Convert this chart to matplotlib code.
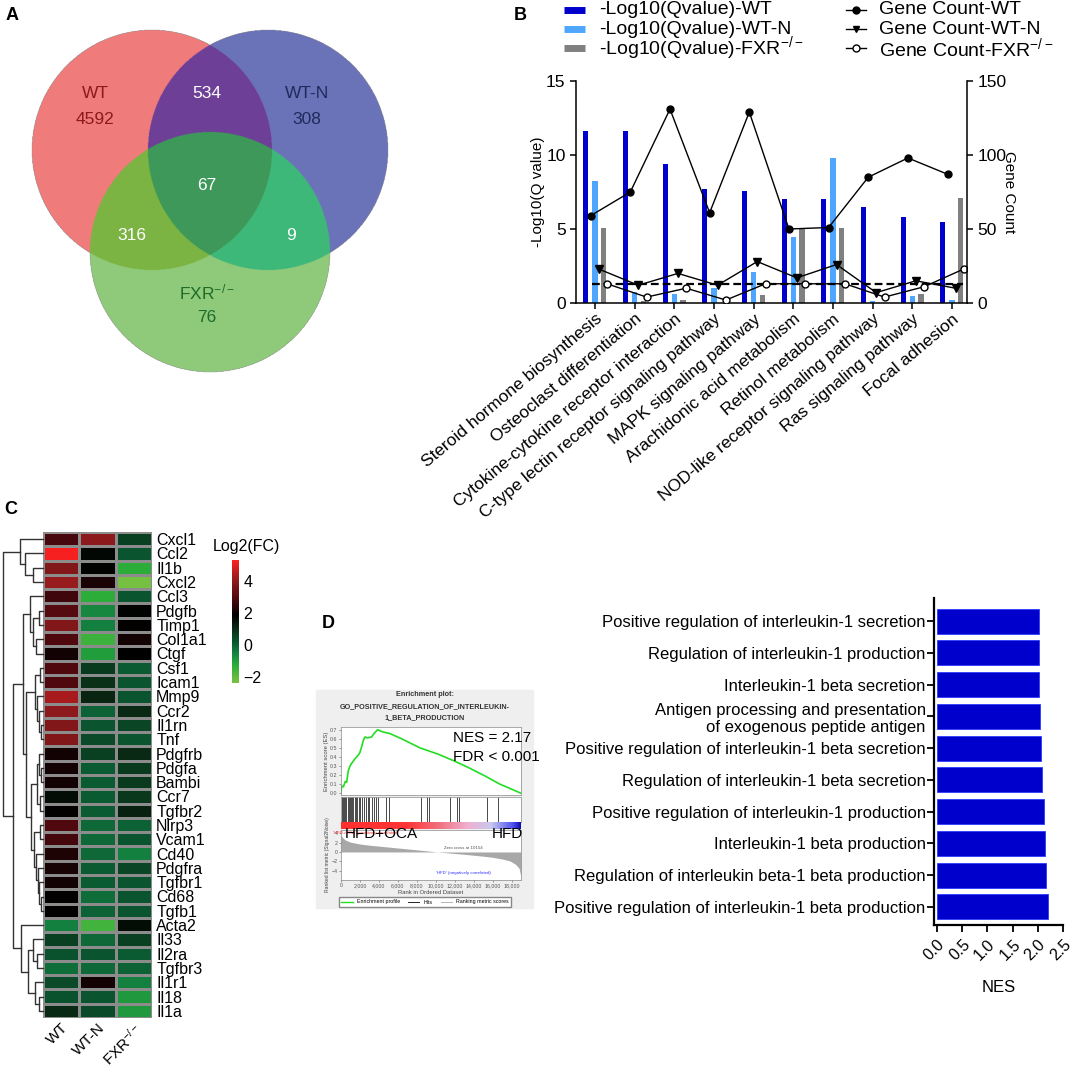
import numpy as np
import matplotlib
matplotlib.use('Agg')
import matplotlib.pyplot as plt
from matplotlib.colors import LinearSegmentedColormap, to_rgb
from matplotlib.lines import Line2D
from matplotlib.patches import Rectangle

plt.rcParams['font.family'] = ['Liberation Sans', 'DejaVu Sans']
plt.rcParams['mathtext.default'] = 'regular'

W, H = 1072, 1069
fig = plt.figure(figsize=(W / 100, H / 100), dpi=100)


def box(l, t, r, b):
    # pixel box (left, top, right, bottom) -> figure fraction
    return [l / W, 1 - b / H, (r - l) / W, (b - t) / H]


def fx(x):
    return x / W


def fy(y):
    return 1 - y / H


# ---------------- data ----------------
# A: venn counts (region key = in WT, in WT-N, in FXR-/-)
venn_names = ['WT', 'WT-N', 'FXR$^{-/-}$']
venn_counts = {'100': 4592, '010': 308, '001': 76,
               '110': 534, '101': 316, '011': 9, '111': 67}
venn_colors = {'100': '#ef7b7b', '010': '#6c74b8', '001': '#8fca7a',
               '110': '#6e3f96', '101': '#7bb542', '011': '#3eb879',
               '111': '#3e985a'}

# B: KEGG pathways
pathways = ['Steroid hormone biosynthesis', 'Osteoclast differentiation',
            'Cytokine-cytokine receptor interaction',
            'C-type lectin receptor signaling pathway',
            'MAPK signaling pathway', 'Arachidonic acid metabolism',
            'Retinol metabolism', 'NOD-like receptor signaling pathway',
            'Ras signaling pathway', 'Focal adhesion']
q_wt = [11.65, 11.65, 9.4, 7.7, 7.55, 7.05, 7.05, 6.5, 5.8, 5.5]
q_wtn = [8.27, 0.75, 0.63, 1.0, 2.07, 4.48, 9.8, 0.13, 0.45, 0.18]
q_fxr = [5.07, 0.12, 0.22, 0.0, 0.56, 5.0, 5.07, 0.0, 0.63, 7.09]
cnt_wt = [59, 75, 131, 61, 129, 50, 51, 85, 98, 87]
cnt_wtn = [23, 12, 20, 12, 28, 17, 26, 7, 15, 10]
cnt_fxr = [13, 4, 10, 2, 13, 13, 13, 4, 11, 23]
q_threshold = 1.3

# C: heatmap log2(FC)
genes = ['Cxcl1', 'Ccl2', 'Il1b', 'Cxcl2', 'Ccl3', 'Pdgfb', 'Timp1', 'Col1a1',
         'Ctgf', 'Csf1', 'Icam1', 'Mmp9', 'Ccr2', 'Il1rn', 'Tnf', 'Pdgfrb',
         'Pdgfa', 'Bambi', 'Ccr7', 'Tgfbr2', 'Nlrp3', 'Vcam1', 'Cd40', 'Pdgfra',
         'Tgfbr1', 'Cd68', 'Tgfb1', 'Acta2', 'Il33', 'Il2ra', 'Tgfbr3', 'Il1r1',
         'Il18', 'Il1a']
hm_cols = ['WT', 'WT-N', 'FXR$^{-/-}$']
hm_wt = [2.8, 5.2, 3.8, 4.1, 2.7, 3.0, 3.8, 2.9, 2.1, 2.9, 2.9, 4.3, 4.0, 3.8,
         3.8, 2.1, 2.1, 2.1, 1.6, 1.9, 2.9, 2.75, 2.25, 2.15, 2.1, 1.9, 1.9,
         -0.5, 0.6, 0.25, -0.2, 0.4, 0.25, 1.0]
hm_wtn = [4.0, 1.7, 1.8, 2.2, -1.3, -0.6, -0.5, -1.5, -1.0, 0.7, 0.9, 1.1, 0.0,
          0.2, 0.4, 0.6, 0.1, 0.1, 0.1, 0.1, -0.1, -0.1, -0.1, 0.1, 0.1, -0.2,
          0.0, -1.6, -0.1, 0.2, -0.1, 2.1, 0.2, 0.4]
hm_fxr = [0.6, 0.2, -1.3, -2.3, 0.2, 1.8, 1.9, 2.1, 1.85, 0.1, 0.2, 0.2, 1.0,
          0.5, 0.2, 1.0, 0.7, 0.7, 0.75, 1.2, 0.0, 0.2, -0.5, 0.5, 0.2, 0.2,
          0.2, 1.6, 0.6, 0.1, 0.0, -0.5, -0.9, -0.9]
# row dendrogram: [height, left, right], leaves are row indices
row_tree = [40,
            [23, 0, [18, 1, [10, 2, 3]]],
            [30,
             [20,
              [13, 4, [10, [4, 5, 6], [7, 7, 8]]],
              [17,
               [8, [3, 9, 10], [6, 11, [4, 12, [2, 13, 14]]]],
               [12,
                [6, [4, 15, [2, 16, 17]], [3, 18, 19]],
                [9, [3, 20, 21], [7, 22, [5, 23, [4, 24, [2, 25, 26]]]]]]]],
             [22, 27, [15, [10, 28, [6, 29, 30]], [8, 31, [4, 32, 33]]]]]]

# D: GSEA terms
nes_terms = ['Positive regulation of interleukin-1 secretion',
             'Regulation of interleukin-1 production',
             'Interleukin-1 beta secretion',
             'Antigen processing and presentation\nof exogenous peptide antigen',
             'Positive regulation of interleukin-1 beta secretion',
             'Regulation of interleukin-1 beta secretion',
             'Positive regulation of interleukin-1 production',
             'Interleukin-1 beta production',
             'Regulation of interleukin beta-1 beta production',
             'Positive regulation of interleukin-1 beta production']
nes = [2.02, 2.02, 2.03, 2.04, 2.07, 2.08, 2.13, 2.14, 2.17, 2.2]

# D: enrichment plot
es_rank = [0, 70, 250, 450, 600, 770, 950, 1125, 1476, 1828, 2000, 2200, 2350,
           2530, 2800, 3230, 3500, 3870, 4300, 4640, 5100, 6400, 8330, 10260,
           11850, 13500, 15200, 16770, 18100, 18980]
es_val = [0.0, 0.08, 0.07, 0.13, 0.12, 0.25, 0.30, 0.33, 0.38, 0.42, 0.45, 0.52,
          0.58, 0.62, 0.61, 0.62, 0.66, 0.70, 0.68, 0.67, 0.66, 0.60, 0.50, 0.43,
          0.36, 0.28, 0.19, 0.10, 0.04, 0.0]
hit_ranks = [60, 180, 320, 450, 560, 700, 820, 950, 1080, 1180, 1300, 1450, 1580,
             1700, 1850, 2000, 2200, 2450, 2600, 2800, 3000, 3250, 3500, 3700,
             3900, 4745, 5097, 8436, 9034, 9280, 11494, 12197, 12443, 15360, 16590]
metric_rank = [0, 200, 500, 1000, 2000, 3000, 4000, 5000, 6000, 7000, 8000, 9000,
               10154, 11000, 12000, 13000, 14000, 15000, 16000, 17000, 17800,
               18400, 18800, 18980]
metric_val = [3.6, 3.0, 2.5, 2.1, 1.7, 1.45, 1.25, 1.05, 0.85, 0.65, 0.45, 0.25,
              0.0, -0.15, -0.32, -0.5, -0.7, -0.9, -1.15, -1.5, -1.9, -2.6, -3.5,
              -5.2]
strip_rank = [0, 6900, 10400, 13400, 15900, 18200, 19000]
strip_colors = ['#ff3030', '#ff3535', '#f07080', '#f0b0d0', '#c8c8f0', '#5050f0',
                '#1010b0']
gsea_nes, gsea_fdr = '2.17', '0.001'

# ---------------- A: venn ----------------
ax_a = fig.add_axes(box(0, 0, 420, 400))
ax_a.set_xlim(0, 420)
ax_a.set_ylim(400, 0)
ax_a.axis('off')
centers = [(152, 150), (268, 150), (210, 252)]
rad = 120
gx = np.arange(0, 420, 0.5) + 0.25
gy = np.arange(0, 400, 0.5) + 0.25
XX, YY = np.meshgrid(gx, gy)
inside = [(XX - cx) ** 2 + (YY - cy) ** 2 <= rad ** 2 for cx, cy in centers]
img = np.zeros((len(gy), len(gx), 4))
for key, col in venn_colors.items():
    m = np.ones_like(XX, dtype=bool)
    for flag, ins in zip(key, inside):
        m &= ins if flag == '1' else ~ins
    img[m, :3] = to_rgb(col)
    img[m, 3] = 1
ax_a.imshow(img, extent=(0, 420, 400, 0), interpolation='antialiased', aspect='auto')

venn_text_pos = {'100': (95, 120), '010': (307, 120), '001': (207, 318),
                 '110': (207, 94), '101': (132, 235), '011': (291, 235),
                 '111': (207, 185)}
name_pos = [(95, 93), (307, 93), (207, 292)]
text_cols = ['#8b1a1a', '#1f2a5c', '#1e6b2a']
for i, (nm, (tx, ty)) in enumerate(zip(venn_names, name_pos)):
    ax_a.text(tx, ty, nm, ha='center', va='center', fontsize=12.5, color=text_cols[i])
for key, (tx, ty) in venn_text_pos.items():
    single = key.count('1') == 1
    c = text_cols[key.index('1')] if single else 'white'
    ax_a.text(tx, ty, str(venn_counts[key]), ha='center', va='center',
              fontsize=12.5, color=c)

# ---------------- B: bars + lines ----------------
x = np.arange(len(pathways))
ax_b = fig.add_axes(box(576, 81, 967, 303))
bw = 0.13
ax_b.bar(x - 0.23, q_wt, bw, color='#0000cc')
ax_b.bar(x, q_wtn, bw, color='#4fa6ff')
ax_b.bar(x + 0.22, q_fxr, bw, color='#808080')
ax_b.axhline(q_threshold, xmin=0.04, xmax=0.99, color='black', lw=1.6,
             ls=(0, (3.5, 1.8)))
ax_b.set_xlim(-0.48, 9.38)
ax_b.set_ylim(0, 15)
ax_b.set_yticks([0, 5, 10, 15])
ax_b.set_xticks(x)
ax_b.set_xticklabels(pathways, rotation=40, ha='right', va='top',
                     rotation_mode='anchor', fontsize=12.5)
ax_b.tick_params(axis='y', labelsize=12.5, length=4, width=1.1)
ax_b.tick_params(axis='x', length=4, width=1.1, pad=2)
ax_b.set_ylabel('-Log10(Q value)', fontsize=11, labelpad=1)
for s in ['top', 'right']:
    ax_b.spines[s].set_visible(False)
for s in ['left', 'bottom']:
    ax_b.spines[s].set_linewidth(1.1)

ax_c2 = ax_b.twinx()
ax_c2.plot(x - 0.11, cnt_wt, '-o', color='black', lw=1, ms=5)
ax_c2.plot(x + 0.09, cnt_wtn, '-v', color='black', lw=1, ms=5.5)
ax_c2.plot(x + 0.3, cnt_fxr, '-o', color='black', mfc='white', lw=1, ms=5)
ax_c2.set_ylim(0, 150)
ax_c2.set_yticks([0, 50, 100, 150])
ax_c2.tick_params(axis='y', labelsize=12.5, length=4, width=1.1)
ax_c2.set_ylabel('Gene Count', fontsize=11, rotation=270, labelpad=7,
                 va='top')
for s in ['top', 'left', 'bottom']:
    ax_c2.spines[s].set_visible(False)
ax_c2.spines['right'].set_linewidth(1.1)

# legend of B drawn by hand
bar_cols = ['#0000cc', '#4fa6ff', '#808080']
bar_labels = ['-Log10(Qvalue)-WT', '-Log10(Qvalue)-WT-N', '-Log10(Qvalue)-FXR$^{-/-}$']
line_labels = ['Gene Count-WT', 'Gene Count-WT-N', 'Gene Count-FXR$^{-/-}$']
line_marks = [('o', 'black'), ('v', 'black'), ('o', 'white')]
for i, ly in enumerate([10, 29, 48]):
    fig.add_artist(Line2D([fx(564), fx(585)], [fy(ly), fy(ly)], lw=5,
                          color=bar_cols[i], solid_capstyle='butt'))
    fig.text(fx(599), fy(ly), bar_labels[i], fontsize=14, va='center')
    fig.add_artist(Line2D([fx(846), fx(866)], [fy(ly), fy(ly)], lw=1, color='black'))
    fig.add_artist(Line2D([fx(856)], [fy(ly)], marker=line_marks[i][0], ms=5,
                          mfc=line_marks[i][1], mec='black', color='black'))
    fig.text(fx(879), fy(ly), line_labels[i], fontsize=14, va='center')

# ---------------- C: heatmap ----------------
cmap = LinearSegmentedColormap.from_list('gkr', [
    ((-2.4 + 2.4) / 7.7, '#7cc242'), ((-1.3 + 2.4) / 7.7, '#2bad3a'),
    ((-0.5 + 2.4) / 7.7, '#138040'), ((0.2 + 2.4) / 7.7, '#0a5530'),
    ((1.0 + 2.4) / 7.7, '#0a2a14'), ((1.85 + 2.4) / 7.7, '#000000'),
    ((3.0 + 2.4) / 7.7, '#550a0f'), ((4.0 + 2.4) / 7.7, '#8c1a1c'),
    (1.0, '#ff2020')])
hm = np.column_stack([hm_wt, hm_wtn, hm_fxr])
ax_h = fig.add_axes(box(43, 532, 152, 1018))
mesh = ax_h.pcolormesh(hm, cmap=cmap, vmin=-2.4, vmax=5.3, edgecolors='#8c8c8c',
                       linewidth=0.8)
ax_h.set_xlim(0, 3)
ax_h.set_ylim(len(genes), 0)
ax_h.yaxis.tick_right()
ax_h.set_yticks(np.arange(len(genes)) + 0.5)
ax_h.set_yticklabels(genes, fontsize=11.5)
ax_h.set_xticks(np.arange(3) + 0.5)
ax_h.set_xticklabels(hm_cols, rotation=45, ha='right', va='top',
                     rotation_mode='anchor', fontsize=11)
ax_h.tick_params(length=0, pad=3)
ax_h.tick_params(axis='x', pad=2)
for s in ax_h.spines.values():
    s.set_visible(False)

ax_den = fig.add_axes(box(3, 532, 43, 1018))
ax_den.set_xlim(40, 0)
ax_den.set_ylim(len(genes), 0)
ax_den.axis('off')


def draw_tree(node):
    if isinstance(node, int):
        return node + 0.5, 0
    h, left, right = node
    yl, hl = draw_tree(left)
    yr, hr = draw_tree(right)
    ax_den.plot([hl, h, h, hr], [yl, yl, yr, yr], color='#333333', lw=1.0,
                clip_on=False)
    return (yl + yr) / 2, h


draw_tree(row_tree)

ax_cb = fig.add_axes(box(232, 560, 239, 683))
cb = fig.colorbar(mesh, cax=ax_cb, ticks=[-2, 0, 2, 4])
cb.outline.set_visible(False)
ax_cb.tick_params(length=0, labelsize=11.5, pad=3)
fig.text(fx(246), fy(547), 'Log2(FC)', fontsize=11.5, ha='center', va='center')

# ---------------- D: NES bars ----------------
ax_d = fig.add_axes(box(934, 598, 1063, 925))
yd = np.arange(len(nes_terms))
ax_d.barh(yd, nes, height=0.79, color='#0000cc', edgecolor='#2a3cff', lw=0.6)
ax_d.set_ylim(9.57, -0.73)
ax_d.set_xlim(-0.058, 2.5)
ax_d.set_yticks(yd)
ax_d.set_yticklabels(nes_terms, fontsize=12, ha='right', multialignment='right')
ax_d.set_xticks([0, 0.5, 1.0, 1.5, 2.0, 2.5])
ax_d.set_xticklabels(['0.0', '0.5', '1.0', '1.5', '2.0', '2.5'], rotation=45,
                     ha='right', va='top', rotation_mode='anchor', fontsize=11.5)
ax_d.tick_params(axis='both', length=5, width=1.3)
ax_d.tick_params(axis='y', pad=1)
ax_d.set_xlabel('NES', fontsize=12, labelpad=12)
for s in ['top', 'right']:
    ax_d.spines[s].set_visible(False)
for s in ['left', 'bottom']:
    ax_d.spines[s].set_linewidth(1.6)

# ---------------- D: enrichment plot ----------------
fig.add_artist(Rectangle((fx(316), fy(908)), (533 - 316) / W, (908 - 690) / H,
                         transform=fig.transFigure, color='#efefef', zorder=0))
for ty, line in zip([695, 707, 718], ['Enrichment plot:',
                                      'GO_POSITIVE_REGULATION_OF_INTERLEUKIN-',
                                      '1_BETA_PRODUCTION']):
    fig.text(fx(425), fy(ty), line, fontsize=5.2, fontweight='bold', ha='center',
             va='center', color='#333333')

gsea_axes = []
ax_es = fig.add_axes(box(341, 727, 521, 795))
ax_es.plot(es_rank, es_val, color='#22dd22', lw=1.2)
ax_es.set_ylim(-0.02, 0.73)
ax_es.set_yticks(np.arange(8) / 10)
ax_es.set_yticklabels(['%.1f' % v for v in np.arange(8) / 10])
ax_es.set_xticks([])
ax_es.set_ylabel('Enrichment score (ES)', fontsize=4.2, labelpad=1, color='#444444')
gsea_axes.append(ax_es)

ax_hit = fig.add_axes(box(341, 797, 521, 822))
ax_hit.vlines(hit_ranks, 0, 1, color='black', lw=0.5)
ax_hit.set_ylim(0, 1)
ax_hit.set_xticks([])
ax_hit.set_yticks([])
gsea_axes.append(ax_hit)

ax_strip = fig.add_axes(box(341, 822, 521, 829))
strip_cmap = LinearSegmentedColormap.from_list(
    'strip', [(r / strip_rank[-1], c) for r, c in zip(strip_rank, strip_colors)])
ax_strip.imshow(np.linspace(0, 1, 400)[None, :], cmap=strip_cmap, aspect='auto',
                extent=(0, strip_rank[-1], 0, 1))
ax_strip.set_xticks([])
ax_strip.set_yticks([])
ax_strip.axis('off')

ax_m = fig.add_axes(box(341, 830, 521, 880))
ax_m.fill_between(metric_rank, metric_val, 0, color='#a8a8a8', lw=0)
ax_m.set_ylim(-6, 4.7)
ax_m.set_yticks([-4, -2, 0, 2, 4])
ax_m.set_xticks(np.arange(0, 18001, 2000))
ax_m.set_xticklabels(['0'] + ['{:,}'.format(v) for v in range(2000, 18001, 2000)])
ax_m.set_xlabel('Rank in Ordered Dataset', fontsize=4.2, labelpad=1, color='#444444')
ax_m.set_ylabel('Ranked list metric (Signal2Noise)', fontsize=3.6, labelpad=1,
                color='#444444')
ax_m.text(12970, 0.4, 'Zero cross at 10154', fontsize=3.2, ha='center',
          va='bottom', color='#555555')
ax_m.text(12970, -4.6, "'HFD' (negatively correlated)", fontsize=3.2, ha='center',
          va='center', color='#3030ff')
ax_m.text(2600, 4.0, "'HFD+OCA' (positively correlated)", fontsize=3.2,
          ha='center', va='center', color='#ff3030')
gsea_axes.append(ax_m)

for a in gsea_axes:
    a.set_xlim(0, 19000)
    a.set_facecolor('white')
    a.tick_params(labelsize=3.8, length=1.5, width=0.4, pad=1, colors='#555555')
    for s in a.spines.values():
        s.set_linewidth(0.5)
        s.set_color('#888888')

ax_m.legend([Line2D([], [], color='#22dd22', lw=1), Line2D([], [], color='black', lw=0.6),
             Line2D([], [], color='#a8a8a8', lw=0.6)],
            ['Enrichment profile', 'Hits', 'Ranking metric scores'],
            loc='center', bbox_to_anchor=(fx(425), fy(902)),
            bbox_transform=fig.transFigure, ncol=3, fontsize=3.8, frameon=True,
            fancybox=False, edgecolor='#888888', handlelength=2.2,
            borderpad=0.4, columnspacing=1.5, framealpha=1)

fig.text(fx(453), fy(738), 'NES = ' + gsea_nes, fontsize=11, va='center')
fig.text(fx(453), fy(757), 'FDR < ' + gsea_fdr, fontsize=11, va='center')
fig.text(fx(345), fy(834), 'HFD+OCA', fontsize=11, va='center')
fig.text(fx(523), fy(834), 'HFD', fontsize=11, va='center', ha='right')

# ---------------- panel letters ----------------
for lt, (px, py) in zip('ABCD', [(12, 15), (520, 15), (11, 510), (328, 623)]):
    fig.text(fx(px), fy(py), lt, fontsize=13, fontweight='bold', ha='center',
             va='center')

fig.savefig('out.png', dpi=100)
